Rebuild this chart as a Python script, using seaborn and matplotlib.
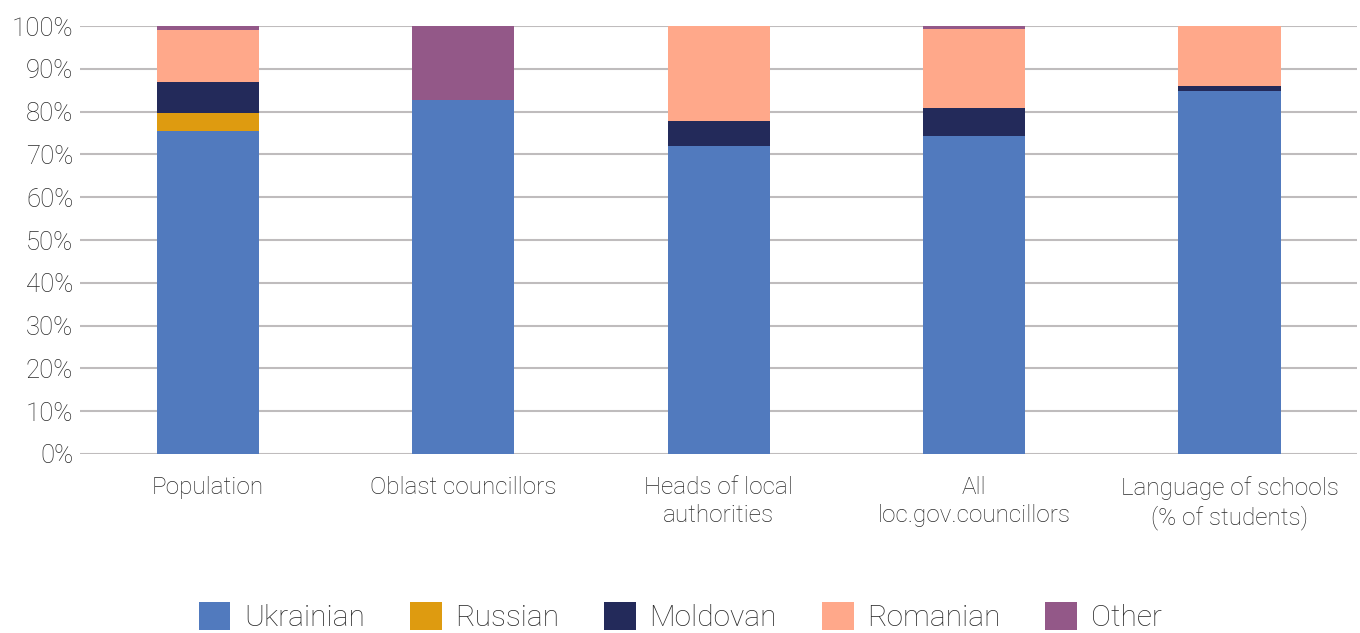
import numpy as np
import matplotlib
matplotlib.use("Agg")
import matplotlib.pyplot as plt
import seaborn as sns
from matplotlib.ticker import FuncFormatter

categories = ["Population", "Oblast councillors", "Heads of local\nauthorities",
              "All\nloc.gov.councillors", "Language of schools\n(% of students)"]
series_names = ["Ukrainian", "Russian", "Moldovan", "Romanian", "Other"]
ukrainian = [75.5, 82.8, 72.0, 74.3, 84.8]
russian = [4.2, 0.0, 0.0, 0.0, 0.0]
moldovan = [7.2, 0.0, 5.8, 6.5, 1.2]
romanian = [12.1, 0.0, 22.2, 18.5, 14.0]
other = [1.0, 17.2, 0.0, 0.7, 0.0]
colors = ["#517ABE", "#DE9B10", "#232A5A", "#FFA88A", "#935888"]

sns.set_theme(style="white")
plt.rcParams["font.family"] = ["Roboto", "DejaVu Sans"]
text_color = "#2A2A2A"

fig = plt.figure(figsize=(13.6, 6.33), dpi=100)
ax = fig.add_axes([0.059, 0.2828, 0.939, 0.676])

bottom = np.zeros(len(categories))
for name, vals, col in zip(series_names, [ukrainian, russian, moldovan, romanian, other], colors):
    vals = np.array(vals, dtype=float)
    sns.barplot(x=categories, y=vals, bottom=bottom, color=col, width=0.4,
                label=name, ax=ax, saturation=1, zorder=3, linewidth=0)
    bottom += vals

ax.set_ylim(0, 100)
ax.set_xlim(-0.5, len(categories) - 0.5)
ax.set_yticks(np.arange(0, 101, 10))
ax.yaxis.set_major_formatter(FuncFormatter(lambda v, p: f"{int(v)}%"))
ax.grid(axis="y", color="#BFBCBD", linewidth=1.5, zorder=0)
ax.grid(axis="x", visible=False)
for s in ax.spines.values():
    s.set_visible(False)
ax.tick_params(axis="y", length=0, pad=5, labelsize=18.5, labelcolor=text_color)
ax.tick_params(axis="x", length=0, pad=16, labelsize=17.5, labelcolor=text_color)
for t in ax.get_yticklabels() + ax.get_xticklabels():
    t.set_fontweight("light")
for t in ax.get_xticklabels():
    t.set_linespacing(1.25)
ax.set_xlabel("")
ax.set_ylabel("")

handles, labels = ax.get_legend_handles_labels()
if ax.legend_:
    ax.legend_.remove()
leg = fig.legend(handles, labels, loc="center", ncol=5, bbox_to_anchor=(0.5, 1 - 617 / 633),
                 frameon=False, fontsize=21.5, handlelength=1.07, handleheight=1.07,
                 handletextpad=0.45, columnspacing=1.5, borderaxespad=0)
for t in leg.get_texts():
    t.set_color(text_color)
    t.set_fontweight("light")

fig.savefig("out.png", dpi=100)
